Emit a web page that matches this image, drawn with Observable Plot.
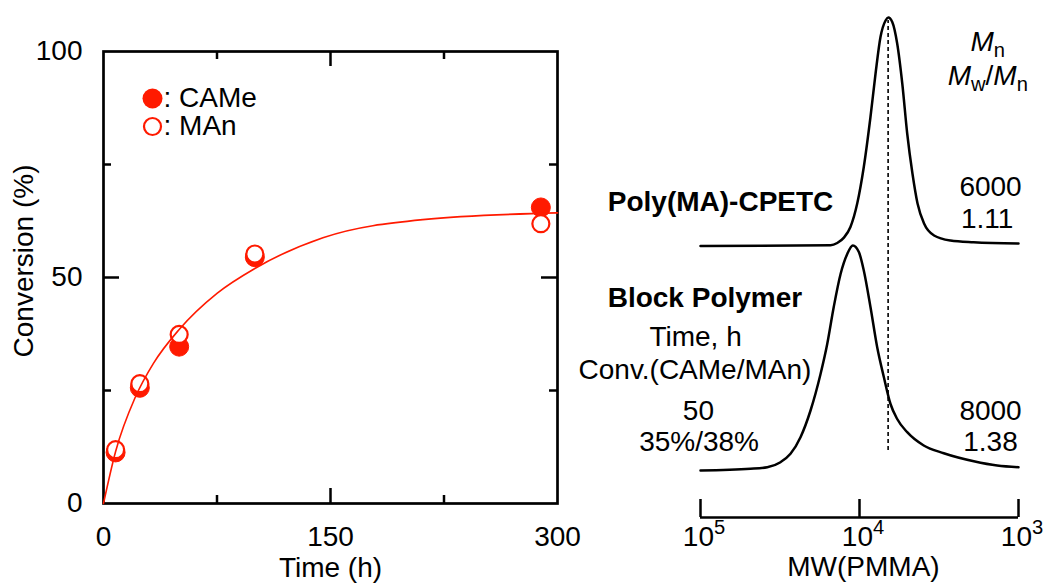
<!DOCTYPE html>
<html><head><meta charset="utf-8">
<script src="https://cdn.jsdelivr.net/npm/d3@7"></script>
<script src="https://cdn.jsdelivr.net/npm/@observablehq/plot@0.6"></script>
<style>
html,body{margin:0;padding:0;background:#fff;}
#wrap{position:relative;width:1046px;height:583px;overflow:hidden;background:#fff;}
#wrap svg{position:absolute;left:0;top:0;background:transparent;}
</style></head><body><div id="wrap"></div>
<script>
const FONT = "'Liberation Sans', Arial, Helvetica, sans-serif";
const RED = "#ff1a00";
const FS = 28;

// ---- Left panel: conversion vs time ----
const timeH = [8, 24, 50, 100, 289];
const convCAMe = [11.3, 25.6, 34.7, 54.5, 65.5];
const convMAn = [11.9, 26.5, 37.4, 55.2, 61.9];
const fitTime = [0, 8, 21, 33, 50, 75, 100, 145, 211, 300];
const fitConv = [0, 11.5, 23.5, 31, 38.5, 46.5, 52, 58.8, 62.8, 64.3];
const xTickLabels = [0, 150, 300];
const yTickLabels = [0, 50, 100];
const xMinorTicks = [75, 225];
const xMajorTicks = [150];
const yMinorTicks = [25, 75];
const yMajorTicks = [50];
const legendNames = [": CAMe", ": MAn"];

// ---- Right panel: GPC traces (x = log10 MW) ----
const mwTickExp = [5, 4, 3];
const precursorLogMW = [5.0, 4.182, 4.140, 4.098, 4.057, 4.014, 3.973, 3.931, 3.899, 3.868, 3.836, 3.819, 3.794, 3.763, 3.731, 3.700, 3.667, 3.635, 3.594, 3.531, 3.428, 3.283, 3.0];
const precursorSignal = [0, 0.14, 0.6, 1.68, 3.8, 8.54, 15.8, 25.8, 34.5, 41.8, 45.1, 45.7, 44.8, 40.5, 32.5, 22.5, 14.5, 8.5, 4.5, 2.1, 1.1, 0.74, 0.48];
const blockLogMW = [5.0, 4.686, 4.580, 4.497, 4.434, 4.371, 4.308, 4.245, 4.203, 4.162, 4.119, 4.077, 4.042, 4.004, 3.973, 3.931, 3.889, 3.847, 3.805, 3.763, 3.700, 3.596, 3.470, 3.281, 3.134, 3.0];
const blockSignal = [0, 0.34, 0.66, 1.66, 3.34, 6.66, 12.0, 19.3, 25.3, 32.7, 39.3, 43.3, 45.0, 43.7, 40.0, 32.7, 24.7, 18.7, 13.3, 10.3, 7.66, 5.0, 3.46, 1.86, 1.0, 0.66];
const precursorOffset = 54.3;
const blockOffset = 9.4;
const peakRefLogMW = 3.82;
const peakRefSpan = [13.4, 99.4];

const boldLabels = [
  {x: 4.874, y: 63.0, text: "Poly(MA)-CPETC"},
  {x: 4.972, y: 43.9, text: "Block Polymer"}
];
const plainLabels = [
  {x: 3.176, y: 66.0, text: "6000"},
  {x: 3.197, y: 59.6, text: "1.11"},
  {x: 5.031, y: 36.1, text: "Time, h"},
  {x: 5.035, y: 29.4, text: "Conv.(CAMe/MAn)"},
  {x: 5.013, y: 21.2, text: "50"},
  {x: 5.009, y: 15.0, text: "35%/38%"},
  {x: 3.176, y: 21.2, text: "8000"},
  {x: 3.176, y: 15.0, text: "1.38"}
];

const fit = fitTime.map((t, i) => ({t, c: fitConv[i]}));
const ptsCAMe = timeH.map((t, i) => ({t, c: convCAMe[i]}));
const ptsMAn = timeH.map((t, i) => ({t, c: convMAn[i]}));
const precursor = precursorLogMW.map((m, i) => ({m, s: precursorSignal[i]}));
const block = blockLogMW.map((m, i) => ({m, s: blockSignal[i]}));

const W = 1046, H = 583;
const L = {left: 103, right: 489, top: 51, bottom: 80};
const frameH = H - L.top - L.bottom;
const frameW = W - L.left - L.right;

const left = Plot.plot({
  width: W, height: H,
  marginLeft: L.left, marginRight: L.right, marginTop: L.top, marginBottom: L.bottom,
  style: {background: "transparent", fontFamily: FONT, color: "black"},
  x: {domain: [0, 300]},
  y: {domain: [0, 100]},
  marks: [
    Plot.ruleX(xMinorTicks, {stroke: "black", strokeWidth: 2.5, insetTop: frameH - 8}),
    Plot.ruleX(xMajorTicks, {stroke: "black", strokeWidth: 2.5, insetTop: frameH - 15}),
    Plot.ruleX(xMinorTicks, {stroke: "black", strokeWidth: 2.5, insetBottom: frameH - 8}),
    Plot.ruleX(xMajorTicks, {stroke: "black", strokeWidth: 2.5, insetBottom: frameH - 15}),
    Plot.ruleY(yMinorTicks, {stroke: "black", strokeWidth: 2.5, insetRight: frameW - 8}),
    Plot.ruleY(yMajorTicks, {stroke: "black", strokeWidth: 2.5, insetRight: frameW - 16}),
    Plot.ruleY(yMinorTicks, {stroke: "black", strokeWidth: 2.5, insetLeft: frameW - 8}),
    Plot.ruleY(yMajorTicks, {stroke: "black", strokeWidth: 2.5, insetLeft: frameW - 16}),
    Plot.frame({stroke: "black", strokeWidth: 2.7}),
    Plot.dot(ptsCAMe, {x: "t", y: "c", r: 9.5, fill: RED, stroke: RED, strokeWidth: 1}),
    Plot.dot(ptsMAn, {x: "t", y: "c", r: 8.5, fill: "white", stroke: RED, strokeWidth: 2.2}),
    Plot.line(fit, {x: "t", y: "c", stroke: RED, strokeWidth: 1.6, curve: "monotone-x"}),
    Plot.dot([legendNames[0]], {frameAnchor: "top-left", dx: 49, dy: 47, r: 10, fill: RED}),
    Plot.dot([legendNames[1]], {frameAnchor: "top-left", dx: 49, dy: 75, r: 8.5, fill: "white", stroke: RED, strokeWidth: 2.2}),
    Plot.text([legendNames[0]], {frameAnchor: "top-left", dx: 60, dy: 47, text: d => d, textAnchor: "start", lineAnchor: "middle", fontSize: FS}),
    Plot.text([legendNames[1]], {frameAnchor: "top-left", dx: 60, dy: 75, text: d => d, textAnchor: "start", lineAnchor: "middle", fontSize: FS}),
    Plot.axisX(xTickLabels, {tickSize: 0, tickPadding: 23, fontSize: FS, label: null}),
    Plot.axisY(yTickLabels, {tickSize: 0, tickPadding: 21, fontSize: FS, label: null}),
    Plot.text(["Time (h)"], {frameAnchor: "bottom", dy: 65, text: d => d, fontSize: FS, textAnchor: "middle", lineAnchor: "middle"}),
    Plot.text(["Conversion (%)"], {frameAnchor: "left", dx: -79, dy: -16.5, rotate: -90, text: d => d, fontSize: FS, textAnchor: "middle", lineAnchor: "middle"})
  ]
});

// rich text (italic / sub / superscript) positioned through the plot scales
function richText(items) {
  return (index, scales) => {
    const fx = typeof scales.x === "function" ? scales.x : scales.x.apply;
    const fy = typeof scales.y === "function" ? scales.y : scales.y.apply;
    const g = d3.create("svg:g").attr("font-family", FONT).attr("fill", "black");
    for (const it of items) {
      const t = g.append("text")
        .attr("x", fx(it.x) + (it.dx || 0))
        .attr("y", fy(it.y) + (it.dyPx || 0))
        .attr("text-anchor", "middle")
        .attr("font-size", it.size);
      let shift = 0;
      for (const p of it.parts) {
        const target = p.sub ? 6 : p.sup ? -12 : 0;
        const s = t.append("tspan").text(p.t).attr("dy", target - shift);
        shift = target;
        if (p.italic) s.attr("font-style", "italic");
        if (p.sub || p.sup) s.attr("font-size", it.size * 0.72);
      }
    }
    return g.node();
  };
}

const tickLabelItems = mwTickExp.map(e => ({x: e, y: 0, dyPx: 29, dx: 4, size: FS, parts: [{t: "10"}, {t: String(e), sup: true}]}));
const headerItems = [
  {x: 3.19, y: 93.2, size: FS, parts: [{t: "M", italic: true}, {t: "n", sub: true}]},
  {x: 3.19, y: 86.4, size: FS, parts: [{t: "M", italic: true}, {t: "w", sub: true}, {t: "/"}, {t: "M", italic: true}, {t: "n", sub: true}]}
];

const R = {left: 700, right: 28, top: 17, bottom: 66};
const rFrameH = H - R.top - R.bottom;

const right = Plot.plot({
  width: W, height: H,
  marginLeft: R.left, marginRight: R.right, marginTop: R.top, marginBottom: R.bottom,
  style: {background: "transparent", fontFamily: FONT, color: "black"},
  x: {domain: [5, 3], axis: null},
  y: {domain: [0, 100], axis: null},
  marks: [
    Plot.ruleX([peakRefLogMW], {y1: peakRefSpan[0], y2: peakRefSpan[1], stroke: "black", strokeWidth: 1.6, strokeDasharray: "4,3"}),
    Plot.line(precursor, {x: "m", y: d => d.s + precursorOffset, stroke: "black", strokeWidth: 2.5, curve: "monotone-x"}),
    Plot.line(block, {x: "m", y: d => d.s + blockOffset, stroke: "black", strokeWidth: 2.5, curve: "monotone-x"}),
    Plot.ruleY([0], {stroke: "black", strokeWidth: 2.5}),
    Plot.ruleX(mwTickExp, {stroke: "black", strokeWidth: 2.5, insetTop: rFrameH - 18}),
    Plot.text(boldLabels, {x: "x", y: "y", text: "text", fontSize: FS, fontWeight: "bold", textAnchor: "middle", lineAnchor: "middle"}),
    Plot.text(plainLabels, {x: "x", y: "y", text: "text", fontSize: FS, textAnchor: "middle", lineAnchor: "middle"}),
    Plot.text(["MW(PMMA)"], {frameAnchor: "bottom", x: () => 3.975, text: d => d, dy: 50, fontSize: FS, textAnchor: "middle", lineAnchor: "middle"}),
    richText(tickLabelItems),
    richText(headerItems)
  ]
});

const wrap = document.getElementById("wrap");
wrap.appendChild(left);
wrap.appendChild(right);
</script>
</body></html>
